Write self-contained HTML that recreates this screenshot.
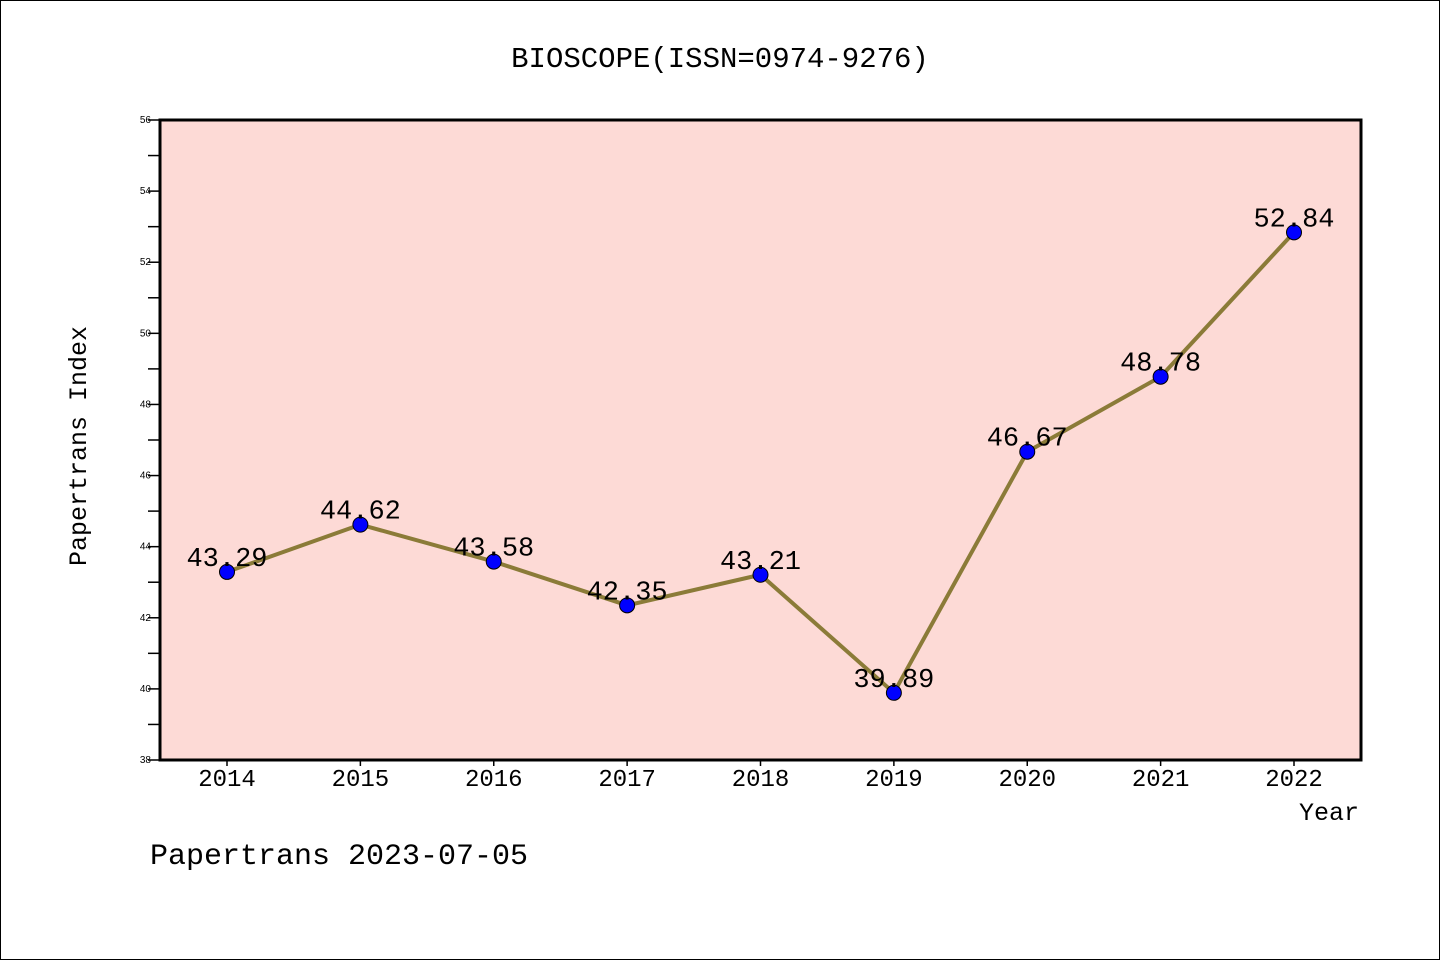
<!DOCTYPE html>
<html><head><meta charset="utf-8"><style>
html,body{margin:0;padding:0;background:#fff;}
svg{display:block;font-family:"Liberation Mono",monospace;}
</style></head><body>
<svg id="chart" width="1440" height="960" viewBox="0 0 1440 960" xmlns="http://www.w3.org/2000/svg">
<rect x="0.5" y="0.5" width="1439" height="959" fill="#fff" stroke="#000" stroke-width="1"/>
<text x="720" y="67" text-anchor="middle" font-size="29">BIOSCOPE(ISSN=0974-9276)</text>
<rect x="160" y="120" width="1201" height="640" fill="#fddad6"/>
<g id="axes"></g>
<g id="marks"></g>
<rect x="160" y="120" width="1201" height="640" fill="none" stroke="#000" stroke-width="3"/>
<text x="86" y="446" text-anchor="middle" font-size="25" transform="rotate(-90 86 446)">Papertrans Index</text>
<text x="1359" y="820" text-anchor="end" font-size="25">Year</text>
<text x="150" y="864" font-size="30">Papertrans 2023-07-05</text>
</svg>
<script>
const years = ["2014","2015","2016","2017","2018","2019","2020","2021","2022"];
const values = [43.29,44.62,43.58,42.35,43.21,39.89,46.67,48.78,52.84];
const yTicks = [38,40,42,44,46,48,50,52,54,56];
const NS="http://www.w3.org/2000/svg";
const yMin=38,yMax=56,plotTop=120,plotBot=760;
const x0=227,xStep=(1294-227)/8;
function xs(i){return x0+i*xStep;}
function ys(v){return plotBot-(v-yMin)/(yMax-yMin)*(plotBot-plotTop);}
function mk(t,a,p){const e=document.createElementNS(NS,t);for(const k in a)e.setAttribute(k,a[k]);p.appendChild(e);return e;}
const axes=document.getElementById('axes'),marks=document.getElementById('marks');
for(let v=yMin;v<=yMax;v++){
  const l=mk('line',{x1:148,x2:160,y1:ys(v),y2:ys(v),stroke:'#000','stroke-width':1.5},axes);
  
  
}
yTicks.forEach(v=>{
  const t=mk('text',{x:151,y:ys(v)+3,'text-anchor':'end','font-size':10,'font-family':'Liberation Sans, sans-serif'},axes);
  t.textContent=v;
  
  
});
years.forEach((y,i)=>{
  const l=mk('line',{x1:xs(i),x2:xs(i),y1:760,y2:766,stroke:'#000','stroke-width':1.5},axes);
  
  
  const t=mk('text',{x:xs(i),y:786,'text-anchor':'middle','font-size':24},axes);
  t.textContent=y;
  
  
});
const pts=values.map((v,i)=>xs(i)+','+ys(v)).join(' ');
const pl=mk('polyline',{points:pts,fill:'none',stroke:'#8b7b38','stroke-width':4,'stroke-linejoin':'round'},marks);


values.forEach((v,i)=>{
  const c=mk('circle',{cx:xs(i),cy:ys(v),r:7.5,fill:'#0000ff',stroke:'#000','stroke-width':1},marks);
  
  
  const t=mk('text',{x:xs(i),y:ys(v)-6,'text-anchor':'middle','font-size':27},marks);
  t.textContent=v.toFixed(2);
  
  
});
</script>
</body></html>
